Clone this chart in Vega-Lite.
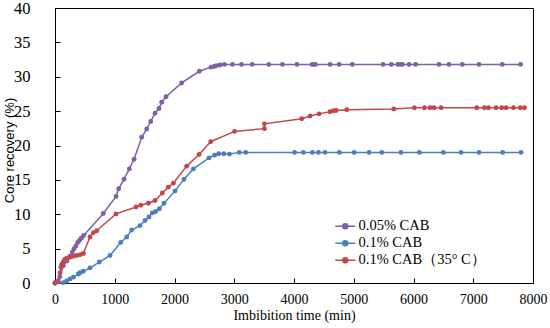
{
  "$schema": "https://vega.github.io/schema/vega-lite/v6.json",
  "width": 478,
  "height": 275,
  "autosize": "none",
  "padding": {"left": 55, "top": 8, "right": 17, "bottom": 45},
  "background": "white",
  "config": {
    "view": {"stroke": "black", "strokeWidth": 1},
    "font": "Liberation Serif"
  },
  "datasets": {
    "pts": [
      {"series": "0.05% CAB", "time": 0, "recovery": 0},
      {"series": "0.05% CAB", "time": 80, "recovery": 0.9},
      {"series": "0.05% CAB", "time": 140, "recovery": 2.5},
      {"series": "0.05% CAB", "time": 200, "recovery": 3.2},
      {"series": "0.05% CAB", "time": 250, "recovery": 3.9},
      {"series": "0.05% CAB", "time": 290, "recovery": 4.5},
      {"series": "0.05% CAB", "time": 320, "recovery": 5.0},
      {"series": "0.05% CAB", "time": 350, "recovery": 5.4},
      {"series": "0.05% CAB", "time": 380, "recovery": 5.9},
      {"series": "0.05% CAB", "time": 410, "recovery": 6.2},
      {"series": "0.05% CAB", "time": 440, "recovery": 6.5},
      {"series": "0.05% CAB", "time": 480, "recovery": 6.9},
      {"series": "0.05% CAB", "time": 809, "recovery": 10.1},
      {"series": "0.05% CAB", "time": 1021, "recovery": 12.6},
      {"series": "0.05% CAB", "time": 1066, "recovery": 13.7},
      {"series": "0.05% CAB", "time": 1155, "recovery": 15.1},
      {"series": "0.05% CAB", "time": 1244, "recovery": 16.6},
      {"series": "0.05% CAB", "time": 1323, "recovery": 18.0},
      {"series": "0.05% CAB", "time": 1451, "recovery": 21.2},
      {"series": "0.05% CAB", "time": 1535, "recovery": 22.4},
      {"series": "0.05% CAB", "time": 1602, "recovery": 23.5},
      {"series": "0.05% CAB", "time": 1674, "recovery": 24.7},
      {"series": "0.05% CAB", "time": 1741, "recovery": 25.4},
      {"series": "0.05% CAB", "time": 1786, "recovery": 26.3},
      {"series": "0.05% CAB", "time": 1858, "recovery": 27.1},
      {"series": "0.05% CAB", "time": 2120, "recovery": 29.1},
      {"series": "0.05% CAB", "time": 2416, "recovery": 30.8},
      {"series": "0.05% CAB", "time": 2610, "recovery": 31.4},
      {"series": "0.05% CAB", "time": 2660, "recovery": 31.5},
      {"series": "0.05% CAB", "time": 2700, "recovery": 31.6},
      {"series": "0.05% CAB", "time": 2762, "recovery": 31.7},
      {"series": "0.05% CAB", "time": 2835, "recovery": 31.8},
      {"series": "0.05% CAB", "time": 2970, "recovery": 31.8},
      {"series": "0.05% CAB", "time": 3121, "recovery": 31.8},
      {"series": "0.05% CAB", "time": 3300, "recovery": 31.8},
      {"series": "0.05% CAB", "time": 3578, "recovery": 31.8},
      {"series": "0.05% CAB", "time": 3806, "recovery": 31.8},
      {"series": "0.05% CAB", "time": 4050, "recovery": 31.8},
      {"series": "0.05% CAB", "time": 4303, "recovery": 31.8},
      {"series": "0.05% CAB", "time": 4336, "recovery": 31.8},
      {"series": "0.05% CAB", "time": 4358, "recovery": 31.8},
      {"series": "0.05% CAB", "time": 4604, "recovery": 31.8},
      {"series": "0.05% CAB", "time": 4755, "recovery": 31.8},
      {"series": "0.05% CAB", "time": 4977, "recovery": 31.8},
      {"series": "0.05% CAB", "time": 5490, "recovery": 31.8},
      {"series": "0.05% CAB", "time": 5630, "recovery": 31.8},
      {"series": "0.05% CAB", "time": 5740, "recovery": 31.8},
      {"series": "0.05% CAB", "time": 5780, "recovery": 31.8},
      {"series": "0.05% CAB", "time": 5813, "recovery": 31.8},
      {"series": "0.05% CAB", "time": 5925, "recovery": 31.8},
      {"series": "0.05% CAB", "time": 6036, "recovery": 31.8},
      {"series": "0.05% CAB", "time": 6426, "recovery": 31.8},
      {"series": "0.05% CAB", "time": 6593, "recovery": 31.8},
      {"series": "0.05% CAB", "time": 6817, "recovery": 31.8},
      {"series": "0.05% CAB", "time": 7095, "recovery": 31.8},
      {"series": "0.05% CAB", "time": 7486, "recovery": 31.8},
      {"series": "0.05% CAB", "time": 7792, "recovery": 31.8},
      {"series": "0.1% CAB", "time": 0, "recovery": 0},
      {"series": "0.1% CAB", "time": 140, "recovery": 0.05},
      {"series": "0.1% CAB", "time": 195, "recovery": 0.3},
      {"series": "0.1% CAB", "time": 251, "recovery": 0.6},
      {"series": "0.1% CAB", "time": 307, "recovery": 0.85},
      {"series": "0.1% CAB", "time": 391, "recovery": 1.3},
      {"series": "0.1% CAB", "time": 419, "recovery": 1.5},
      {"series": "0.1% CAB", "time": 474, "recovery": 1.7},
      {"series": "0.1% CAB", "time": 586, "recovery": 2.2},
      {"series": "0.1% CAB", "time": 742, "recovery": 3.05},
      {"series": "0.1% CAB", "time": 921, "recovery": 4.0},
      {"series": "0.1% CAB", "time": 1100, "recovery": 5.9},
      {"series": "0.1% CAB", "time": 1200, "recovery": 6.7},
      {"series": "0.1% CAB", "time": 1283, "recovery": 7.7},
      {"series": "0.1% CAB", "time": 1423, "recovery": 8.35},
      {"series": "0.1% CAB", "time": 1507, "recovery": 9.1},
      {"series": "0.1% CAB", "time": 1573, "recovery": 9.6},
      {"series": "0.1% CAB", "time": 1630, "recovery": 10.2},
      {"series": "0.1% CAB", "time": 1685, "recovery": 10.4},
      {"series": "0.1% CAB", "time": 1747, "recovery": 10.8},
      {"series": "0.1% CAB", "time": 1825, "recovery": 11.6},
      {"series": "0.1% CAB", "time": 2009, "recovery": 13.4},
      {"series": "0.1% CAB", "time": 2159, "recovery": 15.1},
      {"series": "0.1% CAB", "time": 2316, "recovery": 16.6},
      {"series": "0.1% CAB", "time": 2578, "recovery": 18.2},
      {"series": "0.1% CAB", "time": 2672, "recovery": 18.6},
      {"series": "0.1% CAB", "time": 2740, "recovery": 18.8},
      {"series": "0.1% CAB", "time": 2825, "recovery": 18.8},
      {"series": "0.1% CAB", "time": 2920, "recovery": 18.75},
      {"series": "0.1% CAB", "time": 3083, "recovery": 19.0},
      {"series": "0.1% CAB", "time": 3192, "recovery": 19.0},
      {"series": "0.1% CAB", "time": 4010, "recovery": 19.0},
      {"series": "0.1% CAB", "time": 4157, "recovery": 19.0},
      {"series": "0.1% CAB", "time": 4308, "recovery": 19.0},
      {"series": "0.1% CAB", "time": 4409, "recovery": 19.0},
      {"series": "0.1% CAB", "time": 4520, "recovery": 19.0},
      {"series": "0.1% CAB", "time": 4760, "recovery": 19.0},
      {"series": "0.1% CAB", "time": 5006, "recovery": 19.0},
      {"series": "0.1% CAB", "time": 5257, "recovery": 19.0},
      {"series": "0.1% CAB", "time": 5469, "recovery": 19.0},
      {"series": "0.1% CAB", "time": 5790, "recovery": 19.0},
      {"series": "0.1% CAB", "time": 6099, "recovery": 19.0},
      {"series": "0.1% CAB", "time": 6500, "recovery": 19.0},
      {"series": "0.1% CAB", "time": 6796, "recovery": 19.0},
      {"series": "0.1% CAB", "time": 7097, "recovery": 19.0},
      {"series": "0.1% CAB", "time": 7493, "recovery": 19.0},
      {"series": "0.1% CAB", "time": 7800, "recovery": 19.0},
      {"series": "0.1% CAB（35° C）", "time": 0, "recovery": 0},
      {"series": "0.1% CAB（35° C）", "time": 56, "recovery": 0.3},
      {"series": "0.1% CAB（35° C）", "time": 84, "recovery": 1.5},
      {"series": "0.1% CAB（35° C）", "time": 100, "recovery": 2.3},
      {"series": "0.1% CAB（35° C）", "time": 112, "recovery": 2.7},
      {"series": "0.1% CAB（35° C）", "time": 140, "recovery": 3.1},
      {"series": "0.1% CAB（35° C）", "time": 167, "recovery": 3.45},
      {"series": "0.1% CAB（35° C）", "time": 200, "recovery": 3.6},
      {"series": "0.1% CAB（35° C）", "time": 251, "recovery": 3.75},
      {"series": "0.1% CAB（35° C）", "time": 307, "recovery": 3.9},
      {"series": "0.1% CAB（35° C）", "time": 363, "recovery": 4.0},
      {"series": "0.1% CAB（35° C）", "time": 419, "recovery": 4.1},
      {"series": "0.1% CAB（35° C）", "time": 474, "recovery": 4.3},
      {"series": "0.1% CAB（35° C）", "time": 586, "recovery": 6.7},
      {"series": "0.1% CAB（35° C）", "time": 642, "recovery": 7.3},
      {"series": "0.1% CAB（35° C）", "time": 698, "recovery": 7.6},
      {"series": "0.1% CAB（35° C）", "time": 1021, "recovery": 10.05},
      {"series": "0.1% CAB（35° C）", "time": 1356, "recovery": 11.05},
      {"series": "0.1% CAB（35° C）", "time": 1434, "recovery": 11.3},
      {"series": "0.1% CAB（35° C）", "time": 1562, "recovery": 11.6},
      {"series": "0.1% CAB（35° C）", "time": 1674, "recovery": 12.0},
      {"series": "0.1% CAB（35° C）", "time": 1797, "recovery": 13.1},
      {"series": "0.1% CAB（35° C）", "time": 1897, "recovery": 13.95},
      {"series": "0.1% CAB（35° C）", "time": 1981, "recovery": 14.5},
      {"series": "0.1% CAB（35° C）", "time": 2204, "recovery": 17.0},
      {"series": "0.1% CAB（35° C）", "time": 2411, "recovery": 18.7},
      {"series": "0.1% CAB（35° C）", "time": 2606, "recovery": 20.55},
      {"series": "0.1% CAB（35° C）", "time": 3005, "recovery": 22.05},
      {"series": "0.1% CAB（35° C）", "time": 3504, "recovery": 22.45},
      {"series": "0.1% CAB（35° C）", "time": 3504, "recovery": 23.15},
      {"series": "0.1% CAB（35° C）", "time": 4130, "recovery": 23.9},
      {"series": "0.1% CAB（35° C）", "time": 4269, "recovery": 24.3},
      {"series": "0.1% CAB（35° C）", "time": 4419, "recovery": 24.6},
      {"series": "0.1% CAB（35° C）", "time": 4604, "recovery": 24.9},
      {"series": "0.1% CAB（35° C）", "time": 4660, "recovery": 25.05},
      {"series": "0.1% CAB（35° C）", "time": 4705, "recovery": 25.1},
      {"series": "0.1% CAB（35° C）", "time": 4883, "recovery": 25.2},
      {"series": "0.1% CAB（35° C）", "time": 5670, "recovery": 25.3},
      {"series": "0.1% CAB（35° C）", "time": 6015, "recovery": 25.5},
      {"series": "0.1% CAB（35° C）", "time": 6183, "recovery": 25.5},
      {"series": "0.1% CAB（35° C）", "time": 6277, "recovery": 25.5},
      {"series": "0.1% CAB（35° C）", "time": 6344, "recovery": 25.5},
      {"series": "0.1% CAB（35° C）", "time": 6462, "recovery": 25.5},
      {"series": "0.1% CAB（35° C）", "time": 7059, "recovery": 25.5},
      {"series": "0.1% CAB（35° C）", "time": 7187, "recovery": 25.5},
      {"series": "0.1% CAB（35° C）", "time": 7254, "recovery": 25.5},
      {"series": "0.1% CAB（35° C）", "time": 7382, "recovery": 25.5},
      {"series": "0.1% CAB（35° C）", "time": 7477, "recovery": 25.5},
      {"series": "0.1% CAB（35° C）", "time": 7550, "recovery": 25.5},
      {"series": "0.1% CAB（35° C）", "time": 7673, "recovery": 25.5},
      {"series": "0.1% CAB（35° C）", "time": 7785, "recovery": 25.5},
      {"series": "0.1% CAB（35° C）", "time": 7857, "recovery": 25.5}
    ]
  },
  "data": {"name": "pts"},
  "encoding": {
    "x": {
      "field": "time", "type": "quantitative",
      "scale": {"domain": [0, 8000], "nice": false},
      "axis": {
        "title": "Imbibition time (min)",
        "values": [0, 1000, 2000, 3000, 4000, 5000, 6000, 7000, 8000],
        "format": "d",
        "grid": false, "domainColor": "black", "tickColor": "black", "tickSize": -5,
        "labelFont": "Liberation Serif", "labelFontSize": 14, "labelColor": "black", "labelPadding": 14, "labelFlush": false,
        "labelBaseline": "top",
        "titleFont": "Liberation Serif", "titleFontSize": 14, "titleFontWeight": "normal", "titleColor": "black",
        "titleY": 36, "titleBaseline": "alphabetic"
      }
    },
    "y": {
      "field": "recovery", "type": "quantitative",
      "scale": {"domain": [0, 40], "nice": false},
      "axis": {
        "title": "Core recovery (%)",
        "values": [0, 5, 10, 15, 20, 25, 30, 35, 40],
        "format": "d",
        "grid": false, "domainColor": "black", "tickColor": "black", "tickSize": -5,
        "labelFont": "Liberation Serif", "labelFontSize": 16.5, "labelColor": "black", "labelPadding": 30, "labelFlush": false,
        "titleFont": "Liberation Sans", "titleFontSize": 13, "titleFontWeight": "normal", "titleColor": "black",
        "titleX": -45.5, "titleY": 142, "titleAngle": -90, "titleAlign": "center", "titleBaseline": "middle"
      }
    },
    "color": {
      "field": "series", "type": "nominal",
      "scale": {"domain": ["0.05% CAB", "0.1% CAB", "0.1% CAB（35° C）"], "range": ["#7F5FA8", "#4A7EBF", "#C0484B"]},
      "legend": {
        "orient": "none", "legendX": 283, "legendY": 211, "title": null, "padding": 0,
        "symbolType": "M-2,0L2,0M-0.5,0A0.5,0.5 0 1,1 0.5,0A0.5,0.5 0 1,1 -0.5,0Z",
        "symbolSize": 100, "symbolStrokeWidth": 1.5,
        "labelFont": "Liberation Serif", "labelFontSize": 14.5, "labelColor": "black", "labelOffset": 6, "rowPadding": 2,
        "encode": {"symbols": {"update": {"fill": {"scale": "color", "field": "value"}, "stroke": {"scale": "color", "field": "value"}, "strokeWidth": {"value": 1.5}, "opacity": {"value": 1}}}}
      }
    }
  },
  "layer": [
    {"mark": {"type": "line", "strokeWidth": 1.5}},
    {"mark": {"type": "point", "filled": true, "size": 24, "opacity": 1}}
  ]
}
